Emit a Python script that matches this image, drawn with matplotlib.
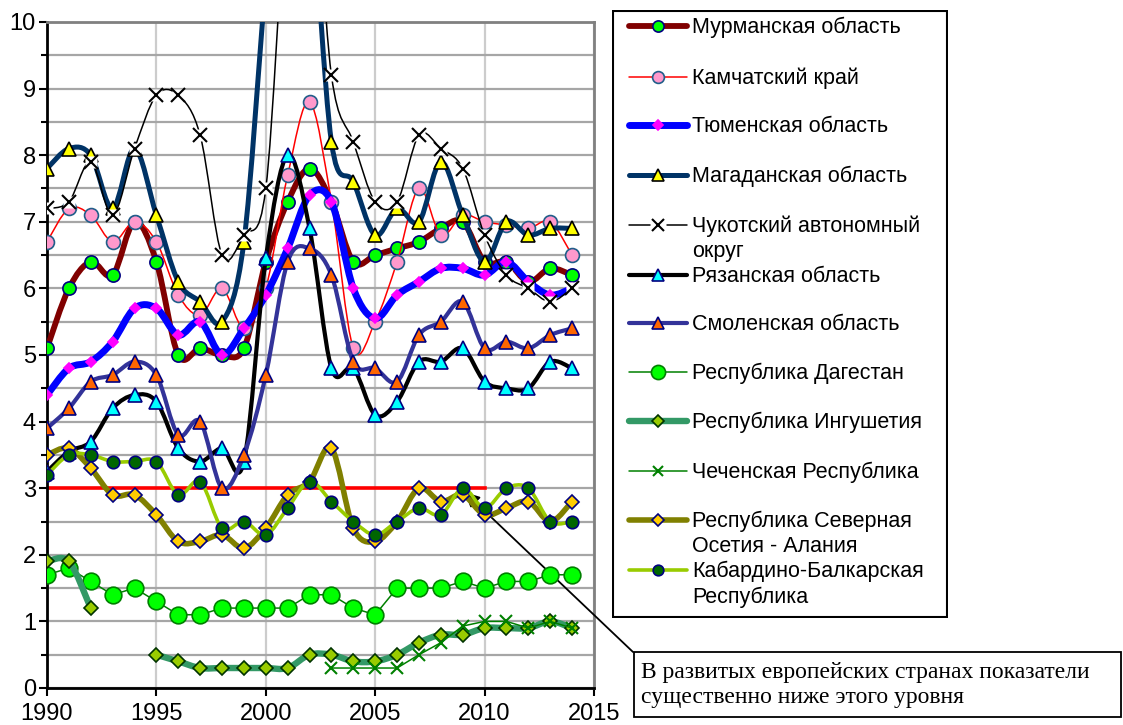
import numpy as np
import matplotlib.pyplot as plt
from matplotlib.path import Path
from matplotlib.patches import PathPatch, Rectangle

plt.rcParams['font.family'] = ['Liberation Sans', 'DejaVu Sans']

# ---------------------------------------------------------------------------
# Data
# ---------------------------------------------------------------------------
nan = np.nan
years = list(range(1990, 2015))

murmansk = [5.1, 6.0, 6.4, 6.2, 7.0, 6.4, 5.0, 5.1, 5.0, 5.1, 6.4, 7.3, 7.8,
            7.3, 6.4, 6.5, 6.6, 6.7, 6.9, 7.0, 6.4, 6.4, 6.1, 6.3, 6.2]
kamchatka = [6.7, 7.2, 7.1, 6.7, 7.0, 6.7, 5.9, 5.6, 6.0, 5.4, 6.0, 7.7, 8.8,
             7.3, 5.1, 5.5, 6.4, 7.5, 6.8, 7.1, 7.0, 6.95, 6.9, 7.0, 6.5]
tyumen = [4.4, 4.8, 4.9, 5.2, 5.7, 5.7, 5.3, 5.5, 5.0, 5.4, 5.9, 6.6, 7.4,
          7.3, 6.0, 5.55, 5.9, 6.1, 6.3, 6.3, 6.2, 6.4, 6.1, 5.9, 6.0]
magadan = [7.8, 8.1, 8.0, 7.2, 8.1, 7.1, 6.1, 5.8, 5.5, 6.7, 10.6, 14.0, 12.2,
           8.2, 7.6, 6.8, 7.2, 7.0, 7.9, 7.1, 6.4, 7.0, 6.8, 6.9, 6.9]
chukotka = [7.2, 7.3, 7.9, 7.1, 8.1, 8.9, 8.9, 8.3, 6.5, 6.8, 7.5, 12.0, 13.0,
            9.2, 8.2, 7.3, 7.3, 8.3, 8.1, 7.8, 6.8, 6.2, 6.0, 5.8, 6.0]
ryazan = [3.25, 3.55, 3.7, 4.2, 4.4, 4.3, 3.6, 3.4, 3.6, 3.4, 6.45, 8.0, 6.9,
          4.8, 4.8, 4.1, 4.3, 4.9, 4.9, 5.1, 4.6, 4.5, 4.5, 4.9, 4.8]
smolensk = [3.9, 4.2, 4.6, 4.7, 4.9, 4.7, 3.8, 4.0, 3.0, 3.5, 4.7, 6.4, 6.6,
            6.2, 4.9, 4.8, 4.6, 5.3, 5.5, 5.8, 5.1, 5.2, 5.1, 5.3, 5.4]
dagestan = [1.7, 1.8, 1.6, 1.4, 1.5, 1.3, 1.1, 1.1, 1.2, 1.2, 1.2, 1.2, 1.4,
            1.4, 1.2, 1.1, 1.5, 1.5, 1.5, 1.6, 1.5, 1.6, 1.6, 1.7, 1.7]
ingushetia = [1.9, 1.9, 1.2, nan, nan, 0.5, 0.4, 0.3, 0.3, 0.3, 0.3, 0.3, 0.5,
              0.5, 0.4, 0.4, 0.5, 0.68, 0.8, 0.8, 0.9, 0.9, 0.9, 1.0, 0.9]
chechnya = [nan, nan, nan, nan, nan, nan, nan, nan, nan, nan, nan, nan, nan,
            0.3, 0.3, 0.3, 0.3, 0.5, 0.68, 0.93, 1.0, 1.0, 0.9, 1.0, 0.9]
ossetia = [3.5, 3.6, 3.3, 2.9, 2.9, 2.6, 2.2, 2.2, 2.3, 2.1, 2.4, 2.9, 3.1,
           3.6, 2.4, 2.2, 2.5, 3.0, 2.8, 2.9, 2.6, 2.7, 2.8, 2.5, 2.8]
kabardino = [3.2, 3.5, 3.5, 3.4, 3.4, 3.4, 2.9, 3.1, 2.4, 2.5, 2.3, 2.7, 3.1,
             2.8, 2.5, 2.3, 2.5, 2.7, 2.6, 3.0, 2.7, 3.0, 3.0, 2.5, 2.5]

level_years = [1990, 2010]
level_value = [3.0, 3.0]

labels = [
    "Мурманская область",
    "Камчатский край",
    "Тюменская область",
    "Магаданская область",
    "Чукотский автономный\nокруг",
    "Рязанская область",
    "Смоленская область",
    "Республика Дагестан",
    "Республика Ингушетия",
    "Чеченская Республика",
    "Республика Северная\nОсетия - Алания",
    "Кабардино-Балкарская\nРеспублика",
]
values = [murmansk, kamchatka, tyumen, magadan, chukotka, ryazan, smolensk,
          dagestan, ingushetia, chechnya, ossetia, kabardino]

note = "В развитых европейских странах показатели\nсущественно ниже этого уровня"

# ---------------------------------------------------------------------------
# Styles: (line colour, line width, marker, face, edge, marker size, smooth, white box)
# ---------------------------------------------------------------------------
STYLES = [
    ("#800000", 4.2, "o", "#00ff00", "#000080", 9.5, True, False),
    ("#ff0000", 1.1, "o", "#ff99cc", "#215e8a", 10, True, False),
    ("#0000ff", 5.0, "D", "#ff00ff", "#ff00ff", 5.5, True, False),
    ("#003366", 3.6, "^", "#ffff00", "#000000", 9.5, True, False),
    ("#000000", 1.1, "x", "none", "#000000", 10, True, True),
    ("#000000", 3.0, "^", "#00ffff", "#000080", 9.5, True, False),
    ("#333399", 3.0, "^", "#ff6600", "#000080", 9.5, True, False),
    ("#008000", 1.1, "o", "#00ff00", "#008000", 12, False, False),
    ("#339966", 4.6, "D", "#99cc00", "#003300", 7, True, False),
    ("#008000", 1.1, "x", "none", "#008000", 9, False, False),
    ("#808000", 4.0, "D", "#ffcc00", "#000080", 7, True, False),
    ("#99cc00", 2.6, "o", "#006600", "#000080", 9, True, False),
]


def smooth_path(x, y, t=1.0 / 6.0):
    """Excel-like smoothed line as cubic Bezier segments, split at gaps."""
    x = np.asarray(x, float)
    y = np.asarray(y, float)
    idx = np.flatnonzero(np.isfinite(y))
    runs = np.split(idx, np.flatnonzero(np.diff(idx) > 1) + 1)
    verts, codes = [], []
    for run in runs:
        if len(run) == 0:
            continue
        px, py = x[run], y[run]
        n = len(px)
        verts.append((px[0], py[0]))
        codes.append(Path.MOVETO)
        for i in range(n - 1):
            i0, i3 = max(i - 1, 0), min(i + 2, n - 1)
            c1 = (px[i] + (px[i + 1] - px[i0]) * t, py[i] + (py[i + 1] - py[i0]) * t)
            c2 = (px[i + 1] - (px[i3] - px[i]) * t, py[i + 1] - (py[i3] - py[i]) * t)
            verts += [c1, c2, (px[i + 1], py[i + 1])]
            codes += [Path.CURVE4] * 3
    return Path(verts, codes)


W, H = 1123, 725
fig = plt.figure(figsize=(W / 100, H / 100), dpi=100)
ax = fig.add_axes([47 / W, 1 - 688 / H, (594 - 47) / W, (688 - 22) / H])

# threshold level
ax.plot(level_years, level_value, color="#ff0000", lw=2.6, zorder=2)

for k, (vals, st) in enumerate(zip(values, STYLES)):
    lc, lw, mk, mfc, mec, ms, smooth, wbox = st
    z = 3 + k * 0.1
    if smooth:
        ax.add_patch(PathPatch(smooth_path(years, vals), facecolor="none",
                               edgecolor=lc, lw=lw, capstyle="round",
                               joinstyle="round", zorder=z))
    else:
        ax.plot(years, vals, color=lc, lw=lw, zorder=z)
    if wbox:
        ax.plot(years, vals, ls="none", marker="s", ms=ms * 0.9, mfc="white",
                mec="none", zorder=z + 0.01)
    ax.plot(years, vals, ls="none", marker=mk, ms=ms, mfc=mfc, mec=mec,
            mew=1.5 if mk == "x" else 1.2, zorder=z + 0.02)

ax.set_xlim(1990, 2015)
ax.set_ylim(0, 10)
ax.set_xticks(range(1990, 2016, 5))
ax.set_yticks(range(0, 11))
ax.set_yticks(np.arange(0.5, 10, 1.0), minor=True)
ax.tick_params(axis="both", which="major", direction="out", length=6,
               width=1.5, labelsize=17, pad=2)
ax.tick_params(axis="x", which="major", pad=5)
ax.tick_params(axis="y", which="minor", direction="out", length=4, width=1.5)
ax.grid(True, axis="y", which="both", color="#a6a6a6", lw=1.6, zorder=0)
ax.grid(True, axis="x", which="major", color="#cccccc", lw=1.6, zorder=0)
ax.set_axisbelow(True)
for side in ("left", "bottom"):
    ax.spines[side].set_color("black")
    ax.spines[side].set_linewidth(2)
for side in ("top", "right"):
    ax.spines[side].set_color("#808080")
    ax.spines[side].set_linewidth(2)

# ---------------------------------------------------------------------------
# Legend (drawn in a separate axes whose units are figure pixels)
# ---------------------------------------------------------------------------
lx0, lx1, ly0, ly1 = 612, 948, 10, 618
lax = fig.add_axes([lx0 / W, 1 - ly1 / H, (lx1 - lx0) / W, (ly1 - ly0) / H])
lax.set_xlim(lx0, lx1)
lax.set_ylim(ly1, ly0)
lax.axis("off")
lax.add_patch(Rectangle((lx0 + 1, ly0 + 1), lx1 - lx0 - 2, ly1 - ly0 - 2,
                        fill=False, ec="black", lw=1.5))
row_y = [26, 77, 125, 175, 225, 275, 323, 372, 421, 471, 520, 570]
for lab, st, yy in zip(labels, STYLES, row_y):
    lc, lw, mk, mfc, mec, ms, smooth, wbox = st
    lax.plot([629, 687], [yy, yy], color=lc, lw=lw, solid_capstyle="round")
    if wbox:
        lax.plot([658], [yy], marker="s", ms=ms * 1.2, mfc="white", mec="none")
    lax.plot([658], [yy], marker=mk, ms=ms * 0.85, mfc=mfc, mec=mec,
             mew=1.5 if mk == "x" else 1.2)
    lax.text(692, yy - 9, lab, fontsize=15.5, va="top", ha="left",
             linespacing=1.25)

# ---------------------------------------------------------------------------
# Note box with arrow pointing at the 3.0 level
# ---------------------------------------------------------------------------
fig.add_artist(Rectangle((634 / W, 1 - 717 / H), (1121 - 634) / W, (717 - 652) / H,
                         transform=fig.transFigure, fill=False, ec="black", lw=1.3))
fig.text(641 / W, 1 - 685 / H, note, fontsize=17, va="center", ha="left",
         family=["Liberation Serif", "DejaVu Serif"], linespacing=1.25)
ax.annotate("", xy=(2009.1, 2.94), xycoords="data",
            xytext=(633 / W, 1 - 652 / H), textcoords="figure fraction",
            arrowprops=dict(arrowstyle="-|>", color="black", lw=1.3,
                            mutation_scale=22, shrinkA=0, shrinkB=0),
            annotation_clip=False)

fig.savefig("out.png", dpi=100)
